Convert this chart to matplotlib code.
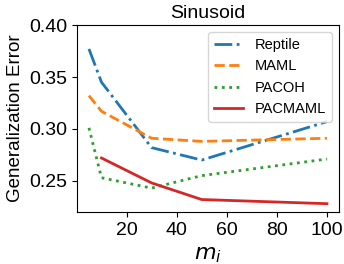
import matplotlib
matplotlib.use('Agg')
import matplotlib.pyplot as plt

plt.rcParams['font.family'] = ['Liberation Sans', 'DejaVu Sans']
plt.rcParams['mathtext.fontset'] = 'dejavusans'

# sample sizes m_i
m = [5, 10, 30, 50, 100]
m_pacmaml = [10, 30, 50, 100]

# generalization error per method
reptile = [0.377, 0.345, 0.282, 0.270, 0.307]
maml = [0.332, 0.317, 0.291, 0.288, 0.291]
pacoh = [0.301, 0.253, 0.243, 0.255, 0.271]
pacmaml = [0.272, 0.248, 0.232, 0.228]

fig, ax = plt.subplots(figsize=(3.44, 2.64), dpi=100)
ax.plot(m, reptile, '-.', color='tab:blue', lw=2, label='Reptile')
ax.plot(m, maml, '--', color='tab:orange', lw=2, label='MAML')
ax.plot(m, pacoh, ':', color='tab:green', lw=2, label='PACOH')
ax.plot(m_pacmaml, pacmaml, '-', color='tab:red', lw=2, label='PACMAML')

ax.set_ylim(0.22, 0.40)
ax.set_yticks([0.25, 0.30, 0.35, 0.40])
ax.set_xticks([20, 40, 60, 80, 100])
ax.tick_params(labelsize=14)
ax.set_title('Sinusoid', fontsize=14, pad=5)
ax.set_xlabel('$m_i$', fontsize=16)
ax.set_ylabel('Generalization Error', fontsize=13.5)
ax.legend(fontsize=10.5, loc='upper right')

fig.subplots_adjust(left=0.224, right=0.985, top=0.905, bottom=0.197)
fig.savefig('out.png')
